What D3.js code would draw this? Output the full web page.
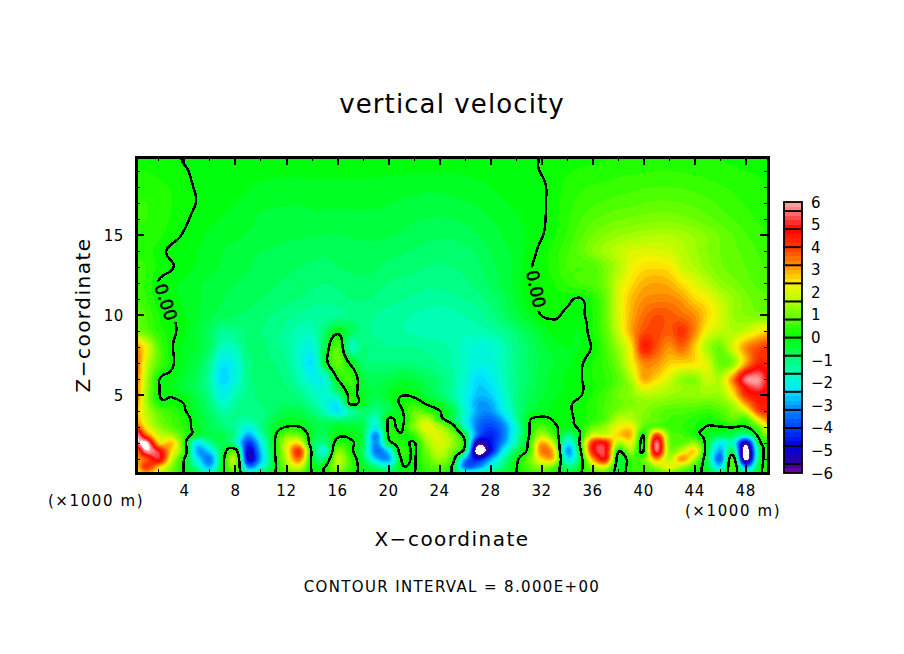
<!DOCTYPE html>
<html>
<head>
<meta charset="utf-8">
<script src="https://cdn.jsdelivr.net/npm/d3@7/dist/d3.min.js"></script>
<style>
  html, body { margin: 0; padding: 0; background: #fff; }
  text { font-family: "DejaVu Sans", sans-serif; fill: #000; }
</style>
</head>
<body>
<svg id="chart" width="904" height="654"></svg>
<script>
// x positions of the grid columns (km), left to right
const xKm = [0.2,1,2,3,4,5,6,7,8,9,10,11,12,13,14,15,16,17,18,19,20,21,22,23,24,25,26,27,28,29,30,
  31,32,33,34,35,36,37,38,39,40,41,42,43,44,45,46,47,48,49,49.75];
// z positions of the grid rows (km), top to bottom
const zKm = [19.875,19,18,17,16,15,14,13,12,11,10,9,8,7,6,5.5,5,4.5,4,3.5,3,2.5,2,1.5,1,0.5,0.125];

// vertical velocity (m/s), one line per z row
const w19_9 = [.15,.15,.1,.06,-.02,-.05,-.05,-.05,-.06,-.06,-.08,-.08,-.08,-.08,-.08,-.08,-.08,-.08,-.08,-.08,-.1,-.1,-.1,-.1,-.1,-.1,-.1,-.1,-.08,-.06,-.05,-.03,.01,.06,.1,.14,.16,.18,.2,.22,.24,.24,.24,.24,.22,.2,.18,.16,.14,.12,.1];
const w19 = [.2,.2,.15,.08,.02,-.04,-.06,-.08,-.08,-.1,-.12,-.14,-.14,-.14,-.14,-.14,-.14,-.14,-.14,-.14,-.16,-.16,-.18,-.18,-.18,-.18,-.16,-.14,-.1,-.08,-.06,-.03,.01,.1,.18,.22,.26,.3,.34,.36,.38,.4,.4,.38,.36,.32,.28,.24,.2,.18,.15];
const w18 = [.3,.3,.25,.18,.06,-.02,-.05,-.1,-.14,-.18,-.25,-.28,-.3,-.3,-.28,-.28,-.28,-.28,-.28,-.28,-.3,-.32,-.34,-.36,-.36,-.34,-.3,-.26,-.2,-.14,-.1,-.06,-.04,.1,.26,.36,.42,.46,.5,.54,.58,.6,.6,.58,.54,.48,.42,.36,.3,.24,.2];
const w17 = [.4,.4,.3,.2,.1,-.01,-.08,-.14,-.2,-.26,-.34,-.36,-.38,-.38,-.36,-.36,-.36,-.36,-.36,-.36,-.38,-.42,-.44,-.46,-.46,-.44,-.42,-.36,-.28,-.22,-.16,-.1,-.05,.12,.3,.46,.56,.64,.7,.74,.8,.84,.84,.8,.74,.66,.56,.46,.38,.3,.26];
const w16 = [.4,.4,.28,.18,.05,-.08,-.16,-.22,-.3,-.34,-.44,-.46,-.5,-.5,-.46,-.46,-.48,-.46,-.46,-.46,-.48,-.52,-.58,-.6,-.62,-.6,-.56,-.48,-.4,-.3,-.22,-.14,-.05,.14,.36,.58,.76,.88,.98,1.04,1.1,1.14,1.14,1.08,.98,.86,.72,.6,.48,.38,.32];
const w15 = [.35,.35,.25,.1,-.03,-.14,-.24,-.3,-.36,-.42,-.5,-.52,-.56,-.58,-.58,-.6,-.62,-.58,-.56,-.56,-.58,-.62,-.66,-.72,-.76,-.76,-.7,-.6,-.5,-.38,-.28,-.16,-.02,.16,.42,.72,1,1.2,1.36,1.46,1.54,1.6,1.6,1.5,1.36,1.18,.98,.8,.62,.48,.4];
const w14 = [.35,.3,.1,-.06,-.12,-.2,-.32,-.4,-.46,-.54,-.6,-.62,-.66,-.68,-.72,-.76,-.76,-.72,-.68,-.66,-.72,-.76,-.82,-.88,-.92,-.92,-.86,-.76,-.6,-.46,-.32,-.12,.08,.3,.56,.85,1.2,1.5,1.75,2,2.05,2.05,1.95,1.7,1.45,1.2,1,.85,.74,.58,.5];
const w13 = [.45,.4,.15,.02,-.1,-.22,-.34,-.42,-.5,-.58,-.66,-.7,-.74,-.8,-.84,-.86,-.8,-.76,-.72,-.76,-.86,-.9,-.94,-1,-1.02,-1,-.94,-.84,-.68,-.5,-.34,-.05,.12,.3,.6,.6,.7,1.1,1.6,2.2,2.5,2.55,2.45,1.9,1.6,1.3,1.05,.9,.8,.66,.58];
const w12 = [.5,.35,-.02,-.15,-.25,-.35,-.46,-.54,-.6,-.66,-.72,-.78,-.84,-.9,-.96,-1,-.96,-.9,-.86,-.92,-1,-1.06,-1.1,-1.14,-1.14,-1.1,-1.04,-.92,-.74,-.54,-.3,-.05,.06,.2,.44,.6,.7,1.1,1.9,2.5,2.9,3,2.9,2.5,2.1,1.7,1.3,1.1,.9,.75,.7];
const w11 = [.6,.4,.08,-.12,-.24,-.36,-.5,-.6,-.66,-.72,-.8,-.86,-.94,-1,-1.08,-1.1,-1.06,-1,-.98,-1.04,-1.12,-1.18,-1.24,-1.3,-1.3,-1.26,-1.2,-1.1,-.92,-.68,-.36,-.1,.06,.1,.08,-.03,.3,.9,2,2.8,3.2,3.3,3.3,3.1,2.6,2.3,1.8,1.4,1.1,.9,.85];
const w10 = [.9,.6,.2,.02,-.18,-.36,-.56,-.7,-.78,-.86,-.94,-1.02,-1.12,-1.24,-1.34,-1.34,-1.24,-1.14,-1.12,-1.2,-1.3,-1.34,-1.4,-1.48,-1.5,-1.46,-1.38,-1.28,-1.1,-.84,-.5,-.24,.01,.03,-.04,-.06,.2,.9,2,2.9,3.5,3.8,3.7,3.5,3.2,2.6,2,1.4,1.2,1.1,1.1];
const w9 = [1.2,.8,.3,.08,-.15,-.42,-.8,-1.2,-1.1,-.98,-1,-1.1,-1.3,-1.5,-1.5,-.9,-.2,-.7,-1.1,-1.24,-1.3,-1.38,-1.44,-1.5,-1.54,-1.56,-1.54,-1.5,-1.38,-1.16,-.9,-.6,-.3,-.1,-.08,-.2,.2,.8,1.8,3,3.8,3.9,3.7,4.1,3.3,2.2,1.8,1.6,1.8,2.3,2.6];
const w8 = [3.2,2.2,.7,.04,-.25,-.4,-.8,-1.6,-1.5,-.95,-.95,-1.1,-1.3,-1.7,-1.95,-.6,.8,-1.5,-1,-1.1,-1.2,-1.2,-1.2,-1.25,-1.3,-1.45,-1.7,-1.9,-1.8,-1.5,-1.1,-.8,-.5,-.3,-.2,-.2,.05,.6,1.4,2.4,4.4,3.8,3.2,3.6,2.7,1.5,1,2,3.2,3.8,4];
const w7 = [3.7,1.9,.7,.08,-.3,-.6,-1.2,-2.3,-1.9,-1.1,-.95,-1,-1.2,-1.7,-2.4,-.4,.9,-.1,-.9,-1,-1,-1,-1,-1.1,-1.2,-1.4,-1.7,-2,-1.9,-1.5,-1.1,-.8,-.55,-.4,-.25,-.06,.2,.5,1.1,2.2,3.3,3.2,2.7,2.6,2.5,2,.9,1.2,3,4.3,4.2];
const w6 = [3.4,1.6,.05,-.15,-.4,-.7,-1.4,-2.6,-1.9,-1.1,-.9,-.9,-1.1,-1.5,-2,-1.9,.03,.6,-.5,-.7,-.6,-.45,-.5,-.7,-.95,-1.3,-1.8,-2.5,-2.2,-1.6,-1.1,-.8,-.5,-.3,-.15,-.03,.2,.4,.8,1.6,3,2.6,2,1.3,1.2,1.9,1.6,3.3,5.6,5.8,4.8];
const w5_5 = [3.3,1.5,.04,-.2,-.5,-.8,-1.3,-2.3,-1.7,-1.2,-.9,-.85,-1,-1.3,-1.75,-1.8,-.6,.4,-.4,-.6,-.4,-.25,-.3,-.6,-.9,-1.3,-1.9,-2.6,-2.4,-1.7,-1.1,-.75,-.5,-.3,-.15,-.05,.15,.4,.9,1.3,2.3,2,1.7,1.4,1.3,1.6,1.6,2.9,4.8,5.4,4.7];
const w5 = [3.5,1.4,.03,-.05,-.25,-.6,-1.2,-2.1,-1.5,-1.1,-.95,-.9,-.9,-1.1,-1.5,-1.8,-1.2,.15,-.3,-.6,-.3,-.02,-.1,-.5,-.8,-1.3,-2,-2.7,-2.6,-1.8,-1.1,-.7,-.45,-.25,-.1,-.03,.25,.6,1,1.3,1.6,1.6,1.4,1.3,1.3,1.4,1.4,2.4,4.2,4.6,4.4];
const w4_5 = [3.2,1.5,.2,.15,-.03,-.5,-1,-1.7,-1.3,-1.05,-1,-.85,-.8,-.9,-1.3,-1.8,-2.2,.2,-.3,-.8,-.5,.1,.3,-.1,-.4,-1,-2,-3,-2.9,-2,-1.1,-.6,-.35,-.15,-.05,.08,.3,.6,.9,1.1,1.3,1.2,1.1,1,1,.9,1.1,1.6,3.2,4.4,4.4];
const w4 = [2.8,1.7,.8,.4,.05,-.45,-.85,-1.4,-1.2,-1.1,-1.05,-.85,-.6,-.6,-1,-1.6,-2.4,-1.4,-.9,-1.1,-.6,-.1,.9,.5,.02,-.5,-1.8,-3,-3.1,-2.2,-1.2,-.5,-.3,-.15,-.05,.1,.3,.7,1.1,1.4,1.2,.9,.7,.7,.6,.5,.7,1.2,2,3.9,4.2];
const w3_5 = [3,1.9,1,.6,.25,-.3,-.7,-1.1,-1.2,-1.3,-1.1,-.6,-.35,-.35,-.6,-.9,-1,-.9,-.8,-1.6,.05,-.2,1,1.7,.3,-.6,-2,-3.3,-3.6,-2.8,-1.3,-.1,.15,-.05,-.1,.12,.35,.7,1.7,1.6,1.1,.9,.6,.5,.3,.15,.4,.9,.6,2.4,3.4];
const w3 = [4,2.3,1.3,.7,.3,-.3,-.7,-.95,-1.3,-2,-1.1,-.4,.02,.02,-.5,-.6,-.3,-.4,-.6,-2,.1,-.1,1.2,2.2,1.6,.4,-1.6,-3.5,-4,-3.3,-1.8,-.05,.7,.1,-.15,.12,.9,1.4,2.2,2.4,.8,.9,.5,.4,.2,-.03,-.03,.03,-.05,.9,2.3];
const w2_5 = [6.2,3.6,1.9,1.5,.5,-.4,-.6,-.6,-1.2,-3,-1.5,-.2,1,.9,-.4,-.7,-.1,-.15,-.6,-3.2,.1,.05,.5,1.8,2,1.2,-.5,-3.6,-4.4,-3.4,-1.6,-.05,1.6,.5,-1,-.05,2,1.9,2.6,2.9,.02,4,1,.6,.2,-.2,-.5,-.6,-1.4,.2,1.2];
const w2 = [5.6,6.3,2.6,2.8,.3,-2.2,-1.2,-.6,-1.5,-4.2,-2.2,-.2,1.9,2.4,-.6,-1,.3,.12,-.6,-3.2,-.4,.3,-.05,1.4,2,1.4,-.02,-5.4,-4.6,-3.1,-1.4,.2,3,1.5,-2.2,.15,4.2,4.6,1.6,2.2,-.12,5.6,1.1,.8,1.3,-.4,-2.2,-1.6,-5.5,-.5,.2];
const w1_5 = [3.3,5.9,4.9,2.5,.6,-2.9,-2.4,-.5,.5,-5,-2.6,-.2,2,4.2,-.2,-1.9,1.1,.2,-.9,-3.4,-2.4,.4,-.1,1,1.8,1,-.6,-6.8,-4.8,-2.2,-.7,.3,3.4,2.5,-3,-.3,4.4,5,.1,1.5,-.02,5.4,1.3,1.8,2.6,-.6,-3,-.6,-6.8,-1.2,.4];
const w1 = [3,3.8,5,1.9,-.05,-2.2,-3.3,-.3,1.5,-5,-2.8,-.3,1.7,3.5,-.2,-.9,1.7,.5,-.6,-2.6,-3,.03,-.05,.8,1.4,.5,-3,-4.6,-3,-1.4,-.2,.9,2.6,2.5,-2.2,-.6,3,4.6,-.4,.5,.8,3.2,1.6,3.2,1.6,-.8,-3.6,.6,-6.5,-1,.3];
const w0_5 = [2.6,4.2,2.8,1.2,-.1,-1.4,-2.8,-.2,1.2,-3.2,-2,-.3,1.3,2,-.1,-.02,1.5,.5,-.3,-.9,-1.5,-.1,-.05,.5,.8,-.1,-3.5,-3.2,-1.9,-.9,-.05,.7,1.4,.8,-1,-.3,1.4,2,-.4,.4,.6,1.4,2.2,1.4,.5,-.5,-2.4,.9,-3.2,-.5,.3];
const w0_1 = [2.2,3,2,1,-.05,-.7,-1.5,-.1,.8,-1.4,-.9,-.1,.9,1,-.02,.05,.9,.3,-.2,-.4,-.6,-.2,-.02,.4,.4,-.05,-1.4,-1.6,-1,-.5,-.02,.4,.7,.3,-.3,-.05,.6,.8,-.3,.3,.4,.7,1,.6,.2,-.2,-.9,.4,-1.2,-.2,.2];

const wRows = [w19_9,w19,w18,w17,w16,w15,w14,w13,w12,w11,w10,w9,w8,w7,w6,w5_5,w5,w4_5,w4,w3_5,w3,w2_5,w2,w1_5,w1,w0_5,w0_1];

// tick labels
const xTickLabels = [4,8,12,16,20,24,28,32,36,40,44,48];
const zTickLabels = [5,10,15];
const barLabels = [6,5,4,3,2,1,0,-1,-2,-3,-4,-5,-6];

// colour ramp of the key: value -> colour
const rampValues = [-6,-5.6,-4.8,-4,-3.2,-2.4,-1.6,-.8,0,.8,1.6,2.4,3.2,4,4.8,5.6,6];
const rampColors = ["#7a00a8","#30009a","#0000e0","#0040ff","#0088ff","#00e8ff","#00ffc0","#00ff60","#00ff00","#58ff00","#b0ff00","#fff000","#ff9000","#ff3800","#ff0000","#ff7878","#ffa8a8"];

const W = 904, H = 654;
const bandStep = 0.2;
const keyStep = 0.8;

const xScale = d3.scaleLinear().domain([0.2, 49.75]).range([136, 768]);
const zScale = d3.scaleLinear().domain([0.125, 19.875]).range([473, 157]);
const barScale = d3.scaleLinear().domain([-6, 6]).range([473, 202]);
const color = d3.scaleLinear().domain(rampValues).range(rampColors);

const svg = d3.select("#chart");
svg.append("rect").attr("width", W).attr("height", H).attr("fill", "#fff");

// Catmull-Rom between grid nodes, keeps the peaks that a blur would flatten
const cubic = (a, b, c, d, t) =>
  0.5 * (2 * b + (c - a) * t + (2 * a - 5 * b + 4 * c - d) * t * t + (3 * b - a - 3 * c + d) * t * t * t);
const clampRow = r => Math.max(0, Math.min(zKm.length - 1, r));
const clampCol = c => Math.max(0, Math.min(xKm.length - 1, c));

// resample the uneven grid on a regular one, d3.contours wants that
const nx = 316, ny = 158;
const colPos = d3.scaleLinear().domain(xKm).range(d3.range(xKm.length));
const rowPos = d3.scaleLinear().domain(zKm).range(d3.range(zKm.length));
const fine = new Float64Array(nx * ny);
for (let j = 0; j < ny; j++) {
  const z = zScale.invert(157 + (j + 0.5) * 316 / ny);
  const r = rowPos(z), r0 = Math.min(Math.floor(r), zKm.length - 2), fr = r - r0;
  for (let i = 0; i < nx; i++) {
    const x = xScale.invert(136 + (i + 0.5) * 632 / nx);
    const c = colPos(x), c0 = Math.min(Math.floor(c), xKm.length - 2), fc = c - c0;
    const across = [-1, 0, 1, 2].map(dr => {
      const row = wRows[clampRow(r0 + dr)];
      return cubic(row[clampCol(c0 - 1)], row[c0], row[c0 + 1], row[clampCol(c0 + 2)], fc);
    });
    fine[j * nx + i] = cubic(across[0], across[1], across[2], across[3], fr);
  }
}

const path = d3.geoPath(d3.geoTransform({
  point(x, y) { this.stream.point(136 + x * 632 / nx, 157 + y * 316 / ny); }
}));

// filled bands, painted from low to high; off the scale stays white
const plot = svg.append("g");
plot.append("rect").attr("x", 136).attr("y", 157).attr("width", 632).attr("height", 316).attr("fill", "#fff");
const thresholds = d3.range(-30, 30).map(k => k * bandStep);
const bands = d3.contours().size([nx, ny]).thresholds(thresholds)(fine);
plot.selectAll("path.band").data(bands).join("path")
  .attr("class", "band")
  .attr("d", path)
  .attr("fill", d => color(d.value + bandStep / 2))
  .attr("shape-rendering", "crispEdges");
// above +6 is white as well
plot.append("path")
  .datum(d3.contours().size([nx, ny]).contour(fine, 6))
  .attr("d", path).attr("fill", "#fff");

// the contour labels break the zero line
const defs = svg.append("defs");
const labelSpots = [
  {x: 166, y: 302, angle: 72},
  {x: 536, y: 289, angle: 78},
];
const mask = defs.append("mask").attr("id", "line-gaps")
  .attr("maskUnits", "userSpaceOnUse")
  .attr("x", 0).attr("y", 0).attr("width", W).attr("height", H);
mask.append("rect").attr("width", W).attr("height", H).attr("fill", "#fff");
mask.selectAll("rect.gap").data(labelSpots).join("rect")
  .attr("class", "gap")
  .attr("x", -22).attr("y", -14).attr("width", 44).attr("height", 28)
  .attr("transform", d => `translate(${d.x},${d.y}) rotate(${d.angle})`)
  .attr("fill", "#000");

plot.append("path")
  .datum(d3.contours().size([nx, ny]).contour(fine, 0))
  .attr("d", path)
  .attr("fill", "none")
  .attr("stroke", "#000")
  .attr("stroke-width", 2.5)
  .attr("shape-rendering", "crispEdges")
  .attr("mask", "url(#line-gaps)");

plot.selectAll("text.zero").data(labelSpots).join("text")
  .attr("class", "zero")
  .attr("transform", d => `translate(${d.x},${d.y}) rotate(${d.angle})`)
  .attr("text-anchor", "middle")
  .attr("dy", "0.36em")
  .attr("font-size", 17)
  .attr("stroke", "#000")
  .attr("stroke-width", 0.6)
  .text("0.00");

// frame and ticks, they point inward on all four sides
const axes = svg.append("g").attr("stroke", "#000").attr("shape-rendering", "crispEdges");
const xMinor = d3.range(2, 50, 2), zMinor = d3.range(1, 20);
xMinor.forEach(v => {
  const len = v % 4 === 0 ? 8 : 4;
  axes.append("line").attr("x1", xScale(v)).attr("x2", xScale(v)).attr("y1", 473).attr("y2", 473 - len).attr("stroke-width", v % 4 === 0 ? 2 : 1);
  axes.append("line").attr("x1", xScale(v)).attr("x2", xScale(v)).attr("y1", 157).attr("y2", 157 + len).attr("stroke-width", v % 4 === 0 ? 2 : 1);
});
zMinor.forEach(v => {
  const len = v % 5 === 0 ? 8 : 4;
  axes.append("line").attr("y1", zScale(v)).attr("y2", zScale(v)).attr("x1", 136).attr("x2", 136 + len).attr("stroke-width", v % 5 === 0 ? 2 : 1);
  axes.append("line").attr("y1", zScale(v)).attr("y2", zScale(v)).attr("x1", 768).attr("x2", 768 - len).attr("stroke-width", v % 5 === 0 ? 2 : 1);
});
axes.append("rect").attr("x", 136).attr("y", 157).attr("width", 632).attr("height", 316)
  .attr("fill", "none").attr("stroke-width", 3);

// tick labels
svg.selectAll("text.xt").data(xTickLabels).join("text")
  .attr("class", "xt")
  .attr("x", d => xScale(d)).attr("y", 496)
  .attr("text-anchor", "middle").attr("font-size", 15).attr("letter-spacing", 0.6).text(d => d);
svg.selectAll("text.zt").data(zTickLabels).join("text")
  .attr("class", "zt")
  .attr("x", 124).attr("y", d => zScale(d) + 6)
  .attr("text-anchor", "end").attr("font-size", 15).attr("letter-spacing", 0.6).text(d => d);

svg.append("text").attr("x", 96).attr("y", 506).attr("text-anchor", "middle").attr("font-size", 15).attr("letter-spacing", 1.6).text("(×1000 m)");
svg.append("text").attr("x", 733).attr("y", 516).attr("text-anchor", "middle").attr("font-size", 15).attr("letter-spacing", 1.6).text("(×1000 m)");

// titles
svg.append("text").attr("x", 452).attr("y", 113).attr("text-anchor", "middle").attr("font-size", 26).attr("letter-spacing", 1.1).text("vertical velocity");
svg.append("text").attr("x", 452).attr("y", 546).attr("text-anchor", "middle").attr("font-size", 20).attr("letter-spacing", 1.5).text("X−coordinate");
svg.append("text").attr("transform", "translate(90,315) rotate(-90)").attr("text-anchor", "middle").attr("font-size", 20).attr("letter-spacing", 1.5).text("Z−coordinate");
svg.append("text").attr("x", 452).attr("y", 592).attr("text-anchor", "middle").attr("font-size", 15).attr("letter-spacing", 1.35).text("CONTOUR INTERVAL = 8.000E+00");

// colour key
const key = svg.append("g");
const keyEdges = d3.range(-7, 8).map(k => k * keyStep);
const keyBoxes = d3.pairs([-6, ...keyEdges, 6]);
keyBoxes.forEach(([lo, hi]) => {
  const n = Math.round((hi - lo) / bandStep);
  d3.range(n).forEach(i => {
    const v0 = lo + i * bandStep;
    key.append("rect")
      .attr("x", 784).attr("width", 18)
      .attr("y", barScale(v0 + bandStep)).attr("height", barScale(v0) - barScale(v0 + bandStep))
      .attr("fill", color(v0 + bandStep / 2))
      .attr("shape-rendering", "crispEdges");
  });
  key.append("rect")
    .attr("x", 784).attr("width", 18)
    .attr("y", barScale(hi)).attr("height", barScale(lo) - barScale(hi))
    .attr("fill", "none").attr("stroke", "#000").attr("stroke-width", 1.8);
});
svg.selectAll("text.bar").data(barLabels).join("text")
  .attr("class", "bar")
  .attr("x", 811).attr("y", d => barScale(d) + 5.5)
  .attr("font-size", 15)
  .text(d => d < 0 ? "−" + (-d) : d);
</script>
</body>
</html>
